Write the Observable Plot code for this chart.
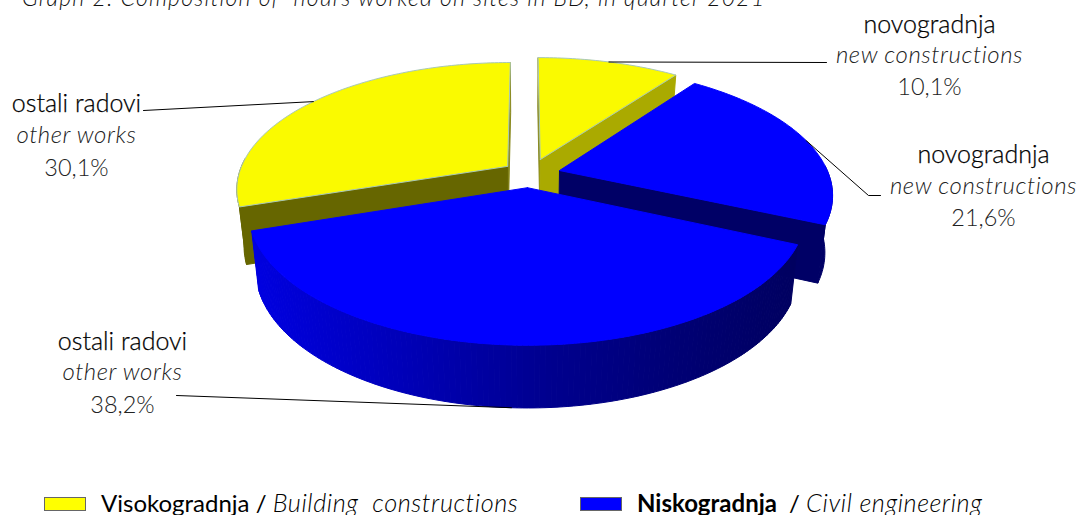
<!DOCTYPE html>
<html><head><meta charset="utf-8">
<script src="https://cdn.jsdelivr.net/npm/d3@7"></script>
<script src="https://cdn.jsdelivr.net/npm/@observablehq/plot@0.6"></script>
<style>
html,body{margin:0;padding:0;background:#fff;overflow:hidden;width:1081px;height:515px;font-family:Lato,sans-serif}
#title{position:absolute;left:0;top:0;width:1081px;height:14px;overflow:hidden}
#title span{position:absolute;left:22px;top:-17px;font-size:23px;font-style:italic;font-weight:300;color:#111;white-space:pre;letter-spacing:1.2px}
#chart{position:relative}
#chart svg{display:block}
.en text{letter-spacing:.55px}
#legend{position:relative;height:33px;overflow:hidden;font-size:24px;color:#000;white-space:pre}
#legend i.sw{position:absolute;top:15px;width:42px;height:14px;box-sizing:border-box;border:1.5px solid #666}
#legend span{position:absolute;top:5px;font-weight:400}
#legend em{font-weight:300;font-size:25.3px;letter-spacing:.55px}
</style></head><body>
<div id="title"><span></span></div>
<div id="chart"></div>
<div id="legend"></div>
<script>
// ---- chart data ----
const titleText = "Graph 2: Composition of  hours worked on sites in BD, in quarter 2021";
const shares = [10.1, 21.6, 38.2, 30.1];
const labelsLocal = ["novogradnja", "novogradnja", "ostali radovi", "ostali radovi"];
const labelsEnglish = ["new constructions", "new constructions", "other works", "other works"];
const groups = ["building", "civil", "civil", "building"];
const legendLocal = ["Visokogradnja", "Niskogradnja"];
const legendEnglish = ["Building  constructions", "Civil engineering"];

// ---- pie view: perspective projection of the pie plane ----
const W = 1081, H = 482, top0 = 0;
const view = {cx: 525, cy: 172, A: 268.5, B: 124, k: 0.175, m: 0.975};
const explode = [[.056, .106], [.127, .016], [.007, -.12], [-.067, .05]];
const topColor = {building: "#fafa00", civil: "#0000ff"};
const cutColor = ["#aaaa00", "#000066", "#000066", "#666600"];
const rimStroke = {building: "#a8c8b8", civil: "#0000ff"};
const wallRamp = d3.scaleLinear().domain([252, 400, 540, 700, 800])
  .range(["#0000e0", "#0000b8", "#000090", "#000070", "#000060"]).clamp(true);

const project = (X, Y) => {
  const s = 1 / (1 + view.k * Y);
  return {x: view.cx + view.A * X * s, y: view.cy - view.B * Y * s, Y};
};
const rim = (i, deg) => {
  const a = deg * Math.PI / 180, [ex, ey] = explode[i];
  return project(ex + Math.sin(a), ey + Math.cos(a));
};
const apex = i => project(explode[i][0], explode[i][1]);
const under = p => ({x: view.cx + (p.x - view.cx) * view.m, y: p.y + 56 - 6 * p.Y, Y: p.Y});
const arc = (i, a0, a1) => {
  const n = Math.max(2, Math.ceil(Math.abs(a1 - a0)));
  return d3.range(n + 1).map(j => rim(i, a0 + (a1 - a0) * j / n));
};

let cum = 0;
const slices = shares.map((v, i) => {
  const a0 = cum * 3.6; cum += v;
  return {i, v, a0, a1: cum * 3.6, mid: (a0 + cum * 3.6) / 2, group: groups[i]};
});

// ---- polygons, back to front ----
const rows = [];
let pid = 0;
const poly = (pts, fill, stroke = fill) => {
  const id = pid++;
  [...pts, pts[0]].forEach(p => rows.push({id, x: p.x, y: p.y, fill, stroke}));
};
const cutFace = (s, deg) => {
  const a = apex(s.i), r = rim(s.i, deg);
  poly([a, r, under(r), under(a)], cutColor[s.i]);
};
const topFace = s => poly([apex(s.i), ...arc(s.i, s.a0, s.a1)], topColor[s.group], rimStroke[s.group]);
const [s10, s21, s38, s30] = slices;

// other works, building
poly([...arc(3, s30.a0, s30.a0 + 22), ...arc(3, s30.a0 + 22, s30.a0).map(under)], cutColor[3]);
poly([apex(3), rim(3, 360), under(rim(3, 360)), under(apex(3))], "#8a8a20");
cutFace(s30, s30.a0);
topFace(s30);
// new constructions, building
poly([apex(0), rim(0, 0), under(rim(0, 0)), under(apex(0))], "#8a8a20");
cutFace(s10, s10.a1);
topFace(s10);
// new constructions, civil
poly([...arc(1, 88, s21.a1), ...arc(1, s21.a1, 88).map(under)], cutColor[1]);
cutFace(s21, s21.a1);
topFace(s21);
// other works, civil: shaded outer wall, then top
arc(2, s38.a0, s38.a1).forEach((p, j, all) => {
  if (j === 0) return;
  const q = all[j - 1];
  poly([q, p, under(p), under(q)], wallRamp((p.x + q.x) / 2));
});
topFace(s38);

// ---- leader lines from the slice rims to the labels ----
const rimAt = s => rim(s.i, s.mid);
const labelSpots = [
  {x: 929, y: [24, 55, 87], via: [{x: 826, y: 62}]},
  {x: 983, y: [154, 186, 218], via: [{x: 868, y: 195}, {x: 880, y: 195}]},
  {x: 122, y: [341, 372, 405], via: [{x: 176, y: 395}]},
  {x: 76, y: [103, 135, 168], via: [{x: 143, y: 110}]}
];
const leaders = slices.flatMap(s => {
  const start = s.i === 2 ? under(rimAt(s)) : rimAt(s);
  return [start, ...labelSpots[s.i].via].map(p => ({id: s.i, x: p.x, y: p.y}));
});
const texts = (field, fmt) => slices.map(s => ({
  x: labelSpots[s.i].x, y: labelSpots[s.i].y[field], text: fmt(s)
}));
const font = {fontFamily: "Lato, sans-serif", textAnchor: "middle", lineAnchor: "middle"};

const chart = Plot.plot({
  width: W, height: H, margin: 0,
  x: {domain: [0, W], range: [0, W], axis: null},
  y: {domain: [top0, top0 + H], range: [0, H], axis: null},
  style: {background: "transparent"},
  marks: [
    Plot.line(rows, {x: "x", y: "y", z: "id", fill: "fill", stroke: "stroke", strokeWidth: 1, curve: "linear"}),
    Plot.line(leaders, {x: "x", y: "y", z: "id", stroke: "#000", strokeWidth: 1, curve: "linear"}),
    Plot.text(texts(0, s => labelsLocal[s.i]), {x: "x", y: "y", text: "text", ...font, fontSize: 25, fill: "#000", fontWeight: 300, stroke: "#000", strokeWidth: 0.25}),
    Plot.text(texts(1, s => labelsEnglish[s.i]), {x: "x", y: "y", text: "text", ...font, fontSize: 24, fill: "#222", fontStyle: "italic", fontWeight: 300, className: "en"}),
    Plot.text(texts(2, s => s.v.toFixed(1).replace(".", ",") + "%"), {x: "x", y: "y", text: "text", ...font, fontSize: 23.5, fill: "#222", fontWeight: 300})
  ]
});
document.getElementById("chart").appendChild(chart);
document.querySelector("#title span").textContent = titleText;

const legendSpots = [{sw: 44, tx: 101, bold: 400, gap: 0}, {sw: 580, tx: 637, bold: 700, gap: 6}];
const lg = document.getElementById("legend");
["building", "civil"].forEach((g, i) => {
  const sw = document.createElement("i");
  sw.className = "sw"; sw.style.left = legendSpots[i].sw + "px";
  sw.style.background = g === "building" ? "#ffff00" : topColor.civil;
  lg.appendChild(sw);
  const t = document.createElement("span");
  t.style.left = legendSpots[i].tx + "px";
  const b = document.createElement("span");
  b.style.cssText = "position:static;font-weight:" + legendSpots[i].bold + ";margin-right:" + legendSpots[i].gap + "px";
  b.textContent = legendLocal[i];
  const e = document.createElement("em");
  e.textContent = legendEnglish[i];
  t.append(b, " / ", e);
  lg.appendChild(t);
});
</script>
</body></html>
